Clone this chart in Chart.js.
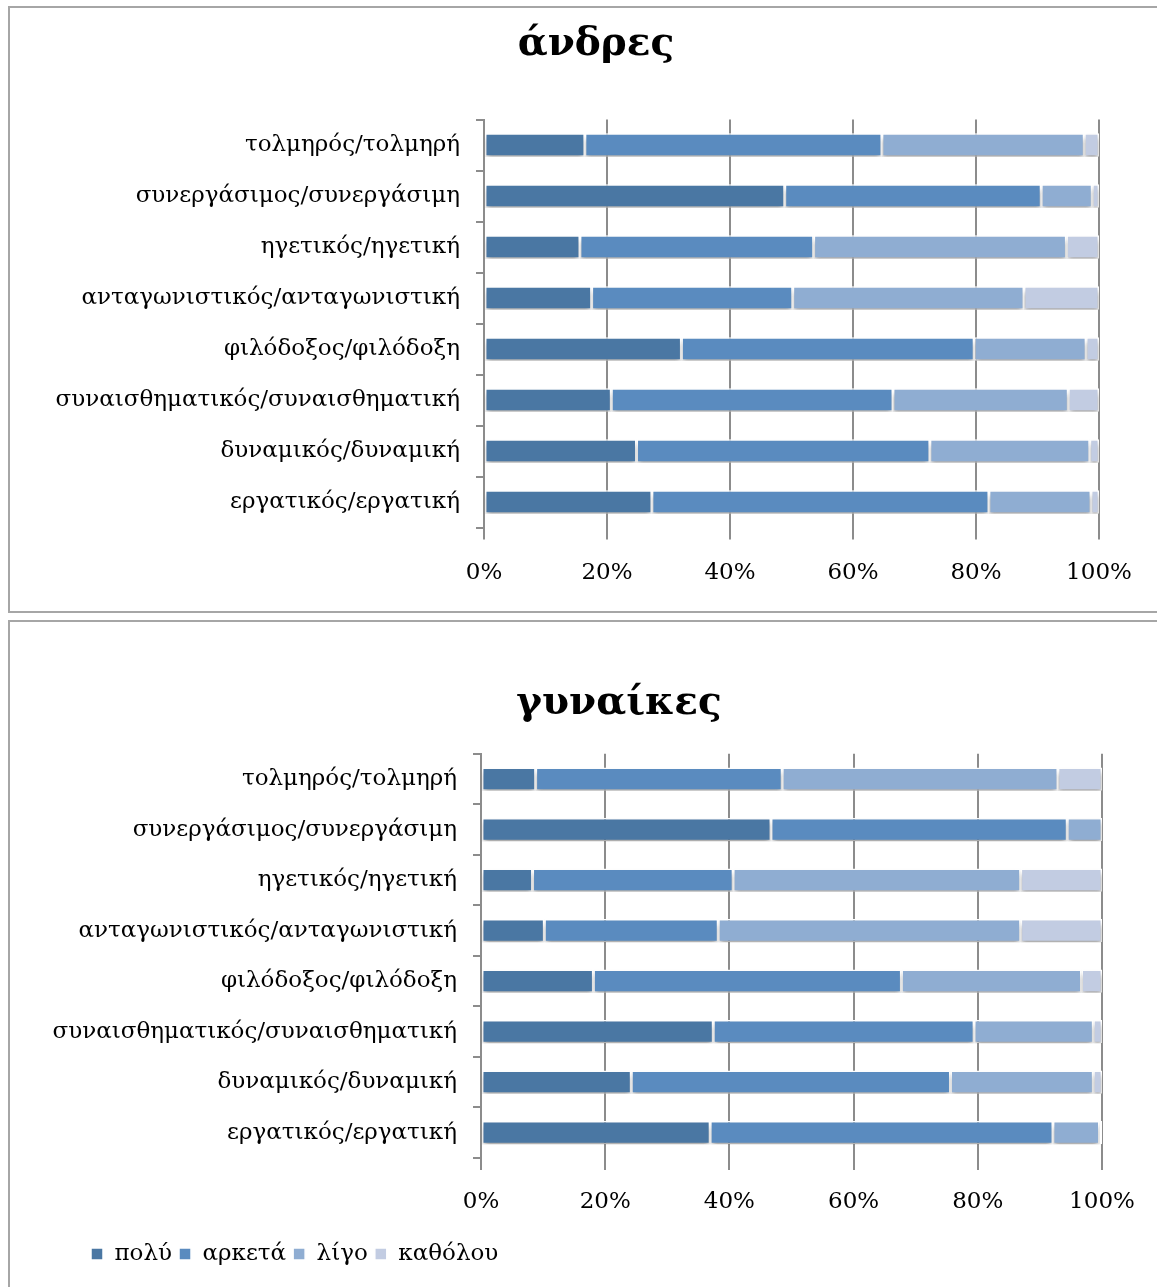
<!DOCTYPE html>
<html>
<head>
<meta charset="utf-8">
<script src="https://cdn.jsdelivr.net/npm/chart.js@4"></script>
<style>
  html, body { margin: 0; padding: 0; background: #fff; overflow: hidden; }
  body { width: 1157px; height: 1287px; position: relative; }
  .frame { position: absolute; border: 2px solid #a6a6a6; box-sizing: border-box; }
  .wrap { position: absolute; left: 0; width: 1157px; }
</style>
</head>
<body>
<div class="frame" style="left:8px; top:6px; width:1170px; height:607px;"></div>
<div class="frame" style="left:8px; top:620px; width:1170px; height:700px;"></div>
<div class="wrap" style="top:0; height:612px;"><canvas id="menChart"></canvas></div>
<div class="wrap" style="top:620px; height:667px;"><canvas id="womenChart"></canvas></div>
<script>
const traits = [
  'τολμηρός/τολμηρή',
  'συνεργάσιμος/συνεργάσιμη',
  'ηγετικός/ηγετική',
  'ανταγωνιστικός/ανταγωνιστική',
  'φιλόδοξος/φιλόδοξη',
  'συναισθηματικός/συναισθηματική',
  'δυναμικός/δυναμική',
  'εργατικός/εργατική'
];
const seriesNames = ['πολύ', 'αρκετά', 'λίγο', 'καθόλου'];
const seriesColors = ['#4a77a3', '#5a8bbf', '#8fadd2', '#c2cce2'];

// άνδρες (%)
const menPolu     = [16.4, 48.9, 15.6, 17.5, 32.1, 20.7, 24.8, 27.3];
const menArketa   = [48.3, 41.7, 38.0, 32.7, 47.6, 45.8, 47.7, 54.8];
const menLigo     = [32.9,  8.3, 41.1, 37.6, 18.2, 28.5, 26.0, 16.6];
const menKatholou = [ 2.4,  1.1,  5.3, 12.2,  2.1,  5.0,  1.5,  1.3];

// γυναίκες (%)
const womenPolu     = [ 8.8, 46.7,  8.3, 10.2, 18.1, 37.4, 24.2, 36.9];
const womenArketa   = [39.7, 47.7, 32.3, 28.0, 49.6, 42.0, 51.4, 55.2];
const womenLigo     = [44.4,  5.6, 46.3, 48.7, 29.0, 19.2, 23.0,  7.5];
const womenKatholou = [ 7.1,  0.0, 13.1, 13.1,  3.3,  1.4,  1.4,  0.4];

const xTicks = [0, 20, 40, 60, 80, 100];
const serif = "'DejaVu Serif', 'Liberation Serif', serif";

// soft drop shadow under the bars
const barShadow = {
  id: 'barShadow',
  beforeDatasetsDraw(chart) {
    const ctx = chart.ctx;
    ctx.save();
    ctx.shadowColor = 'rgba(0,0,0,0.35)';
    ctx.shadowBlur = 5;
    ctx.shadowOffsetY = 4;
  },
  afterDatasetsDraw(chart) {
    chart.ctx.restore();
  }
};

// title centred on the frame, legend pushed in from the left edge
const blockShift = {
  id: 'blockShift',
  afterLayout(chart, args, opts) {
    const tb = chart.titleBlock;
    if (tb && opts.titleCenter != null) {
      const w = tb.right - tb.left;
      tb.left = opts.titleCenter - w / 2;
      tb.right = opts.titleCenter + w / 2;
    }
    const lg = chart.legend;
    if (lg && opts.legendLeft) {
      lg.left += opts.legendLeft;
      lg.right += opts.legendLeft;
    }
  }
};

function makeDatasets(values) {
  return values.map((data, i) => ({
    label: seriesNames[i],
    data: data,
    backgroundColor: seriesColors[i],
    borderColor: '#ffffff',
    borderWidth: 1.5,
    borderSkipped: false,
    barPercentage: 0.46,
    categoryPercentage: 1
  }));
}

function makeChart(id, title, values, cfg) {
  const ctx = document.getElementById(id).getContext('2d');
  return new Chart(ctx, {
    type: 'bar',
    data: { labels: traits, datasets: makeDatasets(values) },
    plugins: [barShadow, blockShift],
    options: {
      indexAxis: 'y',
      responsive: true,
      maintainAspectRatio: false,
      animation: false,
      layout: { padding: cfg.padding },
      plugins: {
        blockShift: { titleCenter: cfg.titleX, legendLeft: cfg.legendLeft },
        title: {
          display: true,
          text: title,
          color: '#000',
          font: { family: serif, size: 39, weight: 'bold' },
          padding: cfg.titlePadding
        },
        legend: {
          display: cfg.legend,
          position: 'bottom',
          align: 'start',
          labels: {
            color: '#000',
            font: { family: serif, size: 23 },
            boxWidth: 12,
            boxHeight: 12,
            padding: 7
          }
        },
        tooltip: { enabled: false }
      },
      scales: {
        x: {
          stacked: true,
          min: 0,
          max: 100,
          afterBuildTicks: scale => {
            scale.ticks = xTicks.map(v => ({ value: v }));
          },
          afterFit: scale => { scale.height = cfg.xHeight; },
          grid: { color: '#8c8c8c', lineWidth: 2, tickLength: 12, drawTicks: true },
          border: { display: false },
          ticks: {
            color: '#000',
            font: { family: serif, size: 23 },
            padding: cfg.xPad,
            maxRotation: 0,
            callback: v => v + '%'
          }
        },
        y: {
          stacked: true,
          afterFit: scale => { scale.width = cfg.yWidth; },
          grid: { drawOnChartArea: false, color: '#8c8c8c', lineWidth: 2, tickLength: 8 },
          border: { display: true, color: '#8c8c8c', width: 2 },
          ticks: {
            color: '#000',
            font: { family: serif, size: 23 },
            padding: 16
          }
        }
      }
    }
  });
}

makeChart('menChart', 'άνδρες', [menPolu, menArketa, menLigo, menKatholou], {
  padding: { left: 0, right: 58, top: 0, bottom: 0 },
  titlePadding: { top: 21, bottom: 51.7 },
  titleX: 596,
  legend: false,
  xHeight: 84.5,
  xPad: 20,
  yWidth: 484
});

makeChart('womenChart', 'γυναίκες', [womenPolu, womenArketa, womenLigo, womenKatholou], {
  padding: { left: 0, right: 55, top: 0, bottom: 11.5 },
  titlePadding: { top: 60, bottom: 27 },
  titleX: 619,
  legend: true,
  legendLeft: 84,
  xHeight: 77.5,
  xPad: 18,
  yWidth: 481
});
</script>
</body>
</html>
